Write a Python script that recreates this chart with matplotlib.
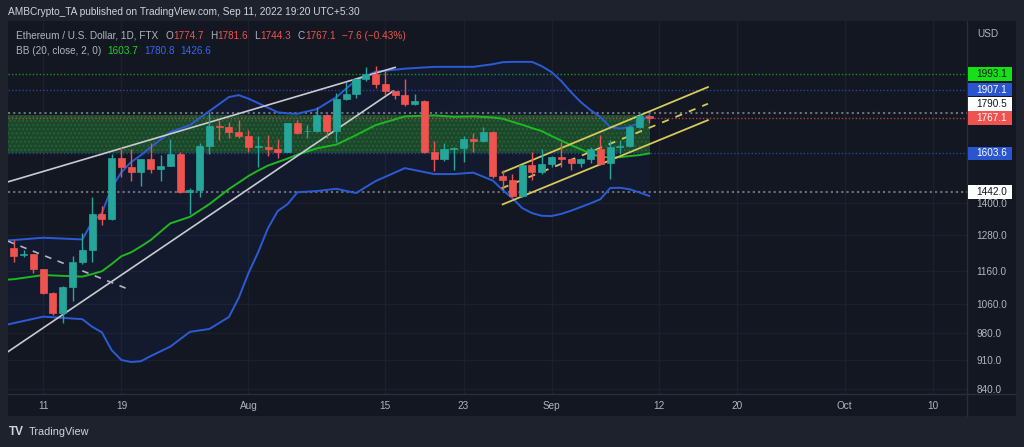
import numpy as np
import pandas as pd
import matplotlib
matplotlib.use('Agg')
import matplotlib.pyplot as plt
from matplotlib.patches import Rectangle

plt.rcParams['font.family'] = ['Liberation Sans', 'DejaVu Sans']

# ---------------- data ----------------
dates = pd.date_range('2022-07-08', '2022-09-11', freq='D')
opens = [1235, 1213, 1215, 1166, 1093, 1033, 1112, 1191, 1229, 1356, 1338, 1584, 1543, 1522, 1578, 1536, 1550,
         1600, 1441, 1450, 1637, 1730, 1725, 1700, 1682, 1633, 1633, 1622, 1611, 1741, 1703, 1703, 1781, 1705,
         1860, 1887, 1965, 1992, 1943, 1904, 1882, 1839, 1853, 1611, 1577, 1621, 1627, 1666, 1659, 1699, 1508,
         1490, 1426, 1553, 1524, 1556, 1586, 1577, 1560, 1580, 1621, 1560, 1631, 1636, 1722, 1774.7]
highs = [1264, 1229, 1217, 1168, 1095, 1114, 1209, 1287, 1423, 1387, 1599, 1630, 1621, 1580, 1648, 1596, 1668,
         1611, 1457, 1648, 1795, 1760, 1749, 1757, 1709, 1682, 1686, 1666, 1745, 1757, 1733, 1822, 1788, 1891,
         1952, 1965, 2031, 2040, 2012, 1906, 1965, 1887, 1855, 1660, 1648, 1630, 1682, 1697, 1725, 1706, 1532,
         1514, 1555, 1611, 1622, 1590, 1655, 1580, 1582, 1630, 1686, 1663, 1663, 1733, 1793, 1781.6]
lows = [1191, 1206, 1153, 1090, 1028, 1005, 1070, 1183, 1191, 1319, 1335, 1504, 1487, 1466, 1520, 1487, 1548,
        1439, 1357, 1423, 1599, 1663, 1675, 1675, 1611, 1543, 1592, 1582, 1608, 1692, 1671, 1700, 1675, 1655,
        1858, 1866, 1957, 1917, 1882, 1860, 1826, 1831, 1605, 1529, 1570, 1532, 1567, 1611, 1656, 1497, 1450,
        1423, 1422, 1490, 1515, 1543, 1545, 1534, 1545, 1560, 1555, 1493, 1600, 1630, 1720, 1744.3]
closes = [1210, 1216, 1166, 1092, 1033, 1112, 1191, 1229, 1356, 1338, 1584, 1543, 1522, 1578, 1536, 1550, 1600,
          1441, 1449, 1637, 1730, 1724, 1700, 1682, 1633, 1636, 1621, 1611, 1741, 1694, 1706, 1781, 1705, 1860,
          1887, 1965, 1992, 1943, 1904, 1882, 1839, 1853, 1611, 1577, 1621, 1628, 1666, 1659, 1699, 1508, 1490,
          1426, 1553, 1524, 1556, 1586, 1577, 1563, 1580, 1621, 1557, 1630, 1636, 1722, 1776, 1767.1]

bb_days = [-1, 0, 3, 7, 8, 9, 10, 11, 12, 13, 14, 16, 18, 20, 22, 23, 24, 25, 26, 27, 28, 29, 31, 33, 35, 37,
           40, 43, 45, 47, 49, 50, 51, 52, 53, 54, 55, 56, 57, 58, 59, 60, 61, 62, 63, 64, 65]
bb_upper = [1262, 1264, 1272, 1266, 1328, 1361, 1458, 1523, 1566, 1596, 1631, 1700, 1733, 1801, 1872, 1882,
            1864, 1841, 1818, 1795, 1790, 1788, 1811, 1872, 1961, 2007, 2024, 2034, 2034, 2034, 2049, 2060,
            2062, 2062, 2062, 2038, 2005, 1956, 1897, 1846, 1806, 1772, 1724, 1717, 1724, 1746, 1780.8]
bb_mid = [1133, 1135, 1148, 1143, 1151, 1160, 1183, 1209, 1222, 1242, 1264, 1323, 1347, 1395, 1454, 1480,
          1507, 1530, 1551, 1566, 1581, 1598, 1626, 1643, 1686, 1733, 1775, 1780, 1773, 1775, 1770, 1764,
          1749, 1735, 1719, 1705, 1682, 1661, 1640, 1622, 1602, 1589, 1586, 1587, 1592, 1596, 1603.7]
bb_lower = [1000, 1006, 1024, 1017, 996, 981, 934, 909, 904, 906, 919, 943, 982, 990, 1023, 1078, 1154,
            1223, 1306, 1369, 1395, 1441, 1446, 1455, 1438, 1486, 1540, 1515, 1515, 1521, 1488, 1450, 1418,
            1380, 1361, 1351, 1350, 1358, 1370, 1384, 1398, 1414, 1458, 1459, 1453, 1440, 1426.6]

# drawn trend lines (day offset, price)
wedge_top_days, wedge_top_prices = [-0.6, 39.0], [1483, 2031]
wedge_bot_days, wedge_bot_prices = [-0.6, 38.8], [930, 1903]
down_dash_days, down_dash_prices = [-0.6, 11.9], [1260, 1102]
chan_top_days, chan_top_prices = [50.0, 71.0], [1522, 1924]
chan_mid_days, chan_mid_prices = [49.9, 71.0], [1457, 1838]
chan_bot_days, chan_bot_prices = [50.0, 71.0], [1394, 1757]

zone_low, zone_high = 1603.6, 1781

level_prices = [1993.1, 1907.1, 1790.5, 1767.1, 1603.6, 1442.0]
level_colors = ['#1ec81e', '#2a5bd7', '#9598a1', '#ef5350', '#2a5bd7', '#9598a1']
label_bg = ['#16e016', '#2a55cf', '#ffffff', '#ef5350', '#2a55cf', '#ffffff']
label_fg = ['#131722', '#ffffff', '#131722', '#ffffff', '#ffffff', '#131722']

ytick_vals = [840, 910, 980, 1060, 1160, 1280, 1400]
xtick_dates = ['2022-07-11', '2022-07-19', '2022-08-01', '2022-08-15', '2022-08-23', '2022-09-01',
               '2022-09-12', '2022-09-20', '2022-10-01', '2022-10-10']
xtick_labels = ['11', '19', 'Aug', '15', '23', 'Sep', '12', '20', 'Oct', '10']

# ---------------- figure ----------------
W, H = 1024, 447
fig = plt.figure(figsize=(W / 100, H / 100), dpi=100)
fig.patch.set_facecolor('#1e222d')


def fx(px):
    return px / W


def fy(py):
    return 1 - py / H


TOP, BOT, LEFT, RIGHT, OUTR, OUTB = 21, 394, 8, 967, 1016, 416
fig.patches.append(Rectangle((fx(LEFT), fy(OUTB)), fx(OUTR - LEFT), (OUTB - TOP) / H,
                             transform=fig.transFigure, facecolor='#131722', edgecolor='none', zorder=-5))

ax = fig.add_axes([fx(LEFT), fy(BOT), fx(RIGHT - LEFT), (BOT - TOP) / H])
ax.set_zorder(1)
ax.set_facecolor('#131722')
ax.set_yscale('log')
ax.set_xlim(-0.6, 97.5)
ax.set_ylim(828, 2307)
for s in ax.spines.values():
    s.set_visible(False)

x = np.array((dates - dates[0]).days, dtype=float)
O, Hh, L, C = map(np.array, (opens, highs, lows, closes))
up = C >= O
col = np.where(up, '#26a69a', '#ef5350')

# ticks and grid
xt = [(pd.Timestamp(d) - dates[0]).days for d in xtick_dates]
ax.set_xticks(xt)
ax.set_xticklabels(xtick_labels)
ax.yaxis.tick_right()
ax.set_yticks(ytick_vals)
ax.set_yticklabels([f'{v:.1f}' for v in ytick_vals])
ax.yaxis.set_minor_locator(matplotlib.ticker.NullLocator())
ax.tick_params(axis='y', which='both', length=0, pad=7, labelcolor='#b2b5be', labelsize=7.2)
ax.tick_params(axis='x', length=0, pad=5, labelcolor='#b2b5be', labelsize=7.2)
ax.grid(True, color='#1c202d', lw=1, zorder=0)
ax.set_axisbelow(True)

# BB fill
ax.fill_between(bb_days, bb_lower, bb_upper, color='#2962ff', alpha=0.05, lw=0, zorder=1)
# zone
ax.fill_between([-0.6, x[-1] + 0.1], [zone_low] * 2, [zone_high] * 2, facecolor='#1c4a2b', edgecolor='#2a6139',
                hatch='....', lw=0, zorder=1.5, alpha=0.95)

# horizontal levels
for p, c in zip(level_prices, level_colors):
    lw = 1.5 if c == '#9598a1' else 1.0
    ax.axhline(p, color=c, lw=lw, ls=(0, (1, 1.5)), alpha=0.7, zorder=2)

ax.plot(bb_days, bb_upper, color='#2b5bd6', lw=1.4, zorder=3)
ax.plot(bb_days, bb_lower, color='#2b5bd6', lw=1.4, zorder=3)
ax.plot(bb_days, bb_mid, color='#1fb81f', lw=1.4, zorder=3)

# trend lines
ax.plot(wedge_top_days, wedge_top_prices, color='#c9cbd1', lw=1.2, zorder=4)
ax.plot(wedge_bot_days, wedge_bot_prices, color='#c9cbd1', lw=1.2, zorder=4)
ax.plot(down_dash_days, down_dash_prices, color='#b2b5be', lw=1.2, ls=(0, (4, 4)), zorder=4)
ax.plot(chan_top_days, chan_top_prices, color='#d7c95a', lw=1.3, zorder=4)
ax.plot(chan_bot_days, chan_bot_prices, color='#d7c95a', lw=1.3, zorder=4)
ax.plot(chan_mid_days, chan_mid_prices, color='#d7c95a', lw=1.3, ls=(0, (4, 4)), zorder=4)

# candles
ax.vlines(x, L, Hh, colors=col, lw=1, zorder=5)
bw = 0.72
for xi, o, c, cc in zip(x, O, C, col):
    lo, hi = min(o, c), max(o, c)
    if hi / lo < 1.002:
        hi = lo * 1.002
    ax.add_patch(Rectangle((xi - bw / 2, lo), bw, hi - lo, facecolor=cc, edgecolor=cc, lw=0.5, zorder=6))

# separators
fig.add_artist(plt.Line2D([fx(RIGHT), fx(RIGHT)], [fy(TOP), fy(OUTB)], transform=fig.transFigure,
                          color='#2a2e39', lw=1, zorder=3))
fig.add_artist(plt.Line2D([fx(LEFT), fx(OUTR)], [fy(BOT), fy(BOT)], transform=fig.transFigure,
                          color='#2a2e39', lw=1, zorder=3))

# price labels on the right scale (stacked)
ydisp = [H - ax.transData.transform((0, p))[1] for p in level_prices]
order = np.argsort(ydisp)[::-1]  # bottom first
placed = {}
prev = None
BH = 14.2
for k in order:
    yk = ydisp[k]
    if prev is not None and yk > prev - BH:
        yk = prev - BH
    placed[k] = yk
    prev = yk
for k in range(len(level_prices)):
    yc = placed[k]
    fig.patches.append(Rectangle((fx(RIGHT + 1), fy(yc + BH / 2 - 0.3)), fx(1012 - RIGHT - 1), (BH - 0.6) / H,
                                 transform=fig.transFigure, facecolor=label_bg[k], edgecolor='none', zorder=5))
    fig.text(fx(976.5), fy(yc), f'{level_prices[k]:.1f}', color=label_fg[k], fontsize=7.2,
             va='center', ha='left', zorder=6)

fig.text(fx(977), fy(34), 'USD', color='#b2b5be', fontsize=7.2, va='center', ha='left')

# header and legend
fig.text(fx(8), fy(12), 'AMBCrypto_TA published on TradingView.com, Sep 11, 2022 19:20 UTC+5:30',
         color='#d1d4dc', fontsize=7.3, va='center', ha='left')
gray, red = '#b2b5be', '#ef5350'

legend1 = [('Ethereum / U.S. Dollar, 1D, FTX', gray, 0), ('O', gray, 7), ('1774.7', red, 0.5),
           ('H', gray, 6), ('1781.6', red, 0.5), ('L', gray, 6), ('1744.3', red, 0.5),
           ('C', gray, 6), ('1767.1', red, 0.5), ('\u22127.6 (\u22120.43%)', red, 6)]
legend2 = [('BB (20, close, 2, 0)', gray, 0), ('1603.7', '#1fd01f', 6), ('1780.8', '#3268f0', 6),
           ('1426.6', '#3268f0', 6)]

renderer = fig.canvas.get_renderer()
for pieces, y0, size in ((legend1, 36, 7.2), (legend2, 50.5, 7.2)):
    cur = 16
    for t, c, gap in pieces:
        cur += gap
        tt = fig.text(fx(cur), fy(y0), t, color=c, fontsize=size, va='center', ha='left', zorder=7)
        bb = tt.get_window_extent(renderer=renderer)
        cur += bb.width

# footer
fig.text(fx(9), fy(432), 'TV', color='#d1d4dc', fontsize=8.5, fontweight='bold', va='center', ha='left')
fig.text(fx(28.5), fy(432), 'TradingView', color='#d1d4dc', fontsize=7.8, va='center', ha='left')

fig.savefig('out.png', dpi=100, facecolor=fig.get_facecolor())
